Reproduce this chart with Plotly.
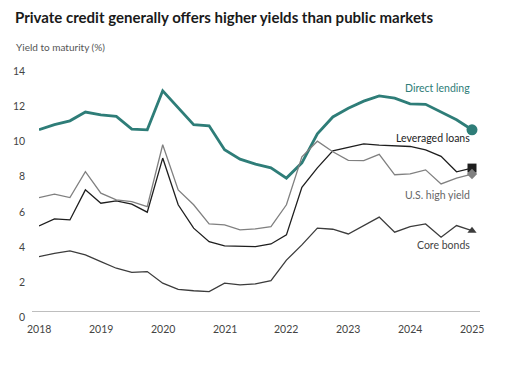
import plotly.graph_objects as go

quarters = [2018 + i * 0.25 for i in range(29)]

direct_lending = [10.37, 10.66, 10.88, 11.38, 11.22, 11.13, 10.41, 10.37, 12.59, 11.6,
                  10.66, 10.6, 9.23, 8.7, 8.42, 8.2, 7.62, 8.49, 10.14, 11.1,
                  11.6, 12.0, 12.3, 12.17, 11.85, 11.82, 11.4, 10.94, 10.37]
leveraged_loans = [4.9, 5.3, 5.24, 6.95, 6.19, 6.32, 6.14, 5.68, 8.76, 6.1,
                   4.77, 4.0, 3.76, 3.72, 3.72, 3.87, 4.39, 7.1, 8.2, 9.17,
                   9.37, 9.57, 9.5, 9.46, 9.42, 9.23, 8.86, 7.98, 8.19]
us_high_yield = [6.51, 6.71, 6.51, 7.99, 6.76, 6.38, 6.28, 6.0, 9.52, 6.95,
                 6.1, 5.01, 4.96, 4.67, 4.73, 4.86, 6.1, 8.83, 9.72, 9.12,
                 8.63, 8.62, 8.97, 7.81, 7.86, 8.09, 7.29, 7.62, 7.85]
core_bonds = [3.15, 3.34, 3.48, 3.25, 2.87, 2.49, 2.26, 2.3, 1.64, 1.29,
              1.21, 1.16, 1.64, 1.54, 1.6, 1.78, 2.95, 3.82, 4.77, 4.71,
              4.44, 4.9, 5.4, 4.54, 4.86, 5.01, 4.26, 4.92, 4.63]

series_names = ["Direct lending", "Leveraged loans", "U.S. high yield", "Core bonds"]
series_values = [direct_lending, leveraged_loans, us_high_yield, core_bonds]
x_tick_labels = [2018, 2019, 2020, 2021, 2022, 2023, 2024, 2025]
y_tick_labels = [0, 2, 4, 6, 8, 10, 12, 14]

colors = ["#2e7d78", "#1e1e1e", "#808080", "#3c3c3c"]
widths = [2.8, 1.3, 1.3, 1.3]
end_symbols = ["circle", "square", "diamond", "triangle-up"]
end_sizes = [11, 9, 8, 8]
label_colors = ["#2e7d78", "#222222", "#666666", "#444444"]

FONT = "Lato"

fig = go.Figure()
for name, vals, c, w, sym, sz in zip(series_names, series_values, colors, widths, end_symbols, end_sizes):
    fig.add_trace(go.Scatter(x=quarters, y=vals, mode="lines", line=dict(color=c, width=w),
                             name=name, showlegend=False, cliponaxis=False, hoverinfo="skip"))
    fig.add_trace(go.Scatter(x=[quarters[-1]], y=[vals[-1]], mode="markers",
                             marker=dict(symbol=sym, size=sz, color=c), showlegend=False,
                             cliponaxis=False, hoverinfo="skip"))

annotations = []
label_pos = [88, 138, 195, 245]  # pixel y of label centers
for name, lc, py in zip(series_names, label_colors, label_pos):
    val = (312 - py) / 17.57
    annotations.append(dict(x=2025, y=val, xref="x", yref="y", text=name, showarrow=False,
                            xanchor="right", yanchor="middle",
                            font=dict(family=FONT, size=10.5, color=lc)))
for v in y_tick_labels:
    annotations.append(dict(x=-0.027, y=v, xref="paper", yref="y", text=str(v), showarrow=False,
                            xanchor="right", yanchor="middle", yshift=-5,
                            font=dict(family=FONT, size=10.5, color="#444444")))
for v in x_tick_labels:
    annotations.append(dict(x=v, y=0, xref="x", yref="y", text=str(v), showarrow=False,
                            xanchor="center", yanchor="middle", yshift=-17,
                            font=dict(family=FONT, size=10.5, color="#444444")))
annotations.append(dict(x=-26 / 433, y=1 + (66 - 17) / 246, xref="paper", yref="paper",
                        text="<b>Private credit generally offers higher yields than public markets</b>",
                        showarrow=False, xanchor="left", yanchor="middle",
                        font=dict(family=FONT, size=15, color="#1a1a1a")))
annotations.append(dict(x=-25 / 433, y=1 + (66 - 47) / 246, xref="paper", yref="paper",
                        text="Yield to maturity (%)", showarrow=False, xanchor="left", yanchor="middle",
                        font=dict(family=FONT, size=10, color="#555555")))

fig.add_shape(type="line", xref="paper", yref="y", x0=-7 / 433, x1=1 + 8 / 433, y0=0, y1=0,
              line=dict(color="#a8a8a8", width=1.6))

fig.update_layout(
    width=521, height=366,
    margin=dict(l=39, r=49, t=66, b=54),
    paper_bgcolor="white", plot_bgcolor="white",
    xaxis=dict(range=[2018, 2025], showgrid=False, zeroline=False, showticklabels=False,
               showline=False, ticks=""),
    yaxis=dict(range=[0, 14], showgrid=False, zeroline=False, showticklabels=False,
               showline=False, ticks=""),
    annotations=annotations,
    font=dict(family=FONT),
    hovermode=False,
)

fig.write_html("out.html", config={"displayModeBar": False, "staticPlot": True},
               post_script="document.body.style.margin='0';document.body.style.padding='0';")
